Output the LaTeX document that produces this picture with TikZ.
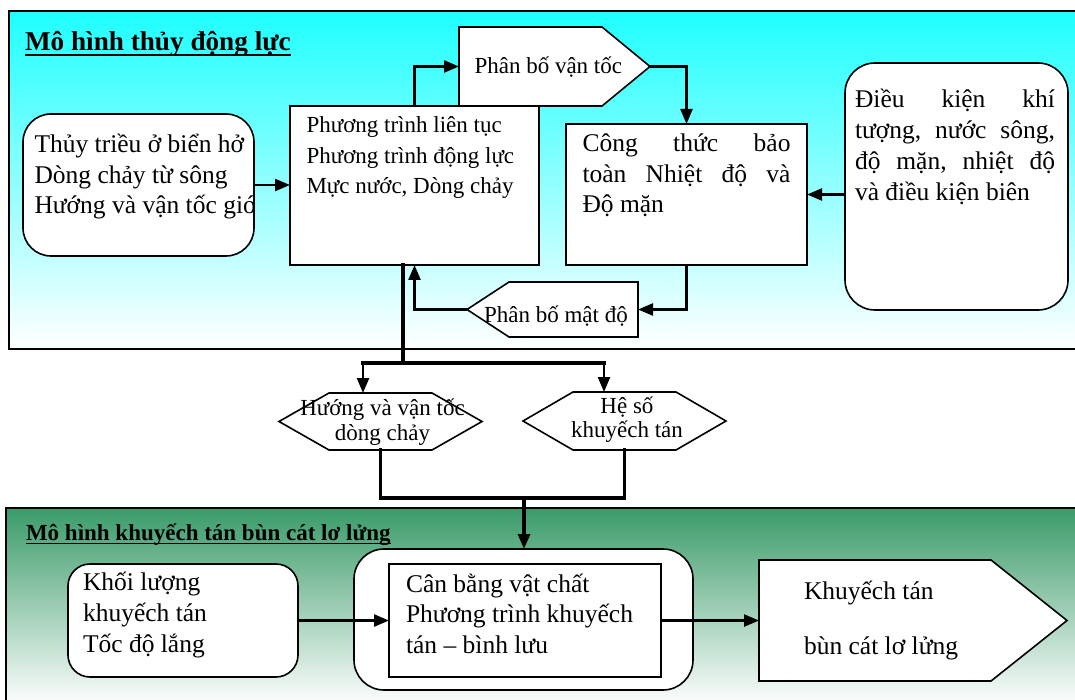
\documentclass[tikz,border=0pt]{standalone}
\usepackage{fontspec}
\setmainfont{Liberation Serif}
\usetikzlibrary{arrows.meta,calc}
\definecolor{topcyan}{RGB}{30,255,255}
\definecolor{botgreen}{RGB}{58,155,105}
\begin{document}
\begin{tikzpicture}[x=1pt,y=-1pt,
  box/.style={draw, line width=1.6pt, fill=white, inner sep=0pt, outer sep=0pt},
  core/.style={inner sep=0pt, outer sep=0pt},
  conn/.style={line width=2.4pt, -{Triangle[length=15pt,width=12pt]}},
  heavy/.style={line width=3.2pt, line cap=rect},
  heavyconn/.style={line width=3.2pt, -{Triangle[length=15pt,width=12pt]}},
  txt/.style={inner sep=0pt, outer sep=0pt, anchor=base west},
  ctxt/.style={inner sep=0pt, outer sep=0pt, anchor=base},
  big/.style={font=\fontsize{25.5}{30.5}\selectfont},
  small/.style={font=\fontsize{23}{30.5}\selectfont},
  title/.style={inner sep=0pt, outer sep=0pt, anchor=base west, font=\bfseries\fontsize{#1}{#1}\selectfont},
  uline/.style={line width=1.6pt}
]
\useasboundingbox (0,0) rectangle (1075,700);

% panels
\draw[line width=2pt, top color=topcyan, bottom color=white] (9,11) rectangle (1090,349);
\draw[line width=2pt, top color=botgreen, bottom color=white] (6,508) rectangle (1090,706);

% titles
\node[title=27.2] (t1) at (25,51) {Mô hình thủy động lực};
\draw[uline] ([yshift=-4pt]t1.base west) -- ([yshift=-4pt]t1.base east);
\node[title=23] (t2) at (26,540) {Mô hình khuyếch tán bùn cát lơ lửng};
\draw[uline] ([yshift=-3.5pt]t2.base west) -- ([yshift=-3.5pt]t2.base east);

% boxes (top)
\node[box, rounded corners=28pt, minimum width=231pt, minimum height=142pt] (A) at (138.5,185) {};
\node[box, minimum width=249pt, minimum height=159pt] (B) at (414.5,185.5) {};
\node[box, minimum width=241pt, minimum height=141pt] (C) at (686.5,194.5) {};
\node[box, rounded corners=30pt, minimum width=223pt, minimum height=247pt] (D) at (956.5,186.5) {};

\node[core, minimum width=143pt, minimum height=79pt] (PV) at (530.5,66.5) {};
\draw[box] (PV.north west) -- (PV.north east) -- ++(48,39.5) coordinate (PVtip) -- (PV.south east) -- (PV.south west) -- cycle;

\node[core, minimum width=129pt, minimum height=55pt] (MD) at (573.5,309.5) {};
\draw[box] (MD.north east) -- (MD.north west) -- ++(-42,27.5) coordinate (MDtip) -- (MD.south west) -- (MD.south east) -- cycle;

% hexagons
\node[core, minimum width=103pt, minimum height=57pt] (H1) at (380.5,421.5) {};
\draw[box] (H1.north west) -- (H1.north east) -- ++(50,28.5) -- (H1.south east) -- (H1.south west) -- ++(-50,-28.5) -- cycle;
\node[core, minimum width=103pt, minimum height=58pt] (H2) at (624.5,421) {};
\draw[box] (H2.north west) -- (H2.north east) -- ++(50,29) -- (H2.south east) -- (H2.south west) -- ++(-50,-29) -- cycle;

% boxes (bottom)
\node[box, rounded corners=22pt, minimum width=230pt, minimum height=113pt] (E) at (183,620.5) {};
\node[box, rounded corners=30pt, minimum width=339pt, minimum height=141pt] (F) at (523.5,619.5) {};
\node[box, minimum width=272pt, minimum height=113pt] (G) at (525,620.5) {};
\node[core, minimum width=232pt, minimum height=121pt] (K) at (875,620.5) {};
\draw[box] (K.north west) -- (K.north east) -- ++(76,60.5) -- (K.south east) -- (K.south west) -- cycle;

% connectors
\draw[conn] (A.east) -- (A.east -| B.west);
\draw[conn] (B.north) |- (PV.west);
\draw[conn] (PVtip) -| (C.north);
\draw[conn] (D.west |- C.east) -- (C.east);
\draw[conn] (C.south) |- (MD.east);
\draw[conn] (MDtip) -| (B.south);
\coordinate (split) at (403,363);
\coordinate (s1) at (363,363);
\coordinate (s2) at (604,363);
\draw[heavy] (B.south -| split) -- (split);
\draw[heavy] (s1) -- (s2);
\draw[conn] (s1) -- (s1 |- H1.north);
\draw[conn] (s2) -- (s2 |- H2.north);
\coordinate (j) at (524,498);
\draw[heavy] (H1.south) -- (H1.south |- j) -- (H2.south |- j) -- (H2.south);
\draw[heavyconn] (j) -- (j |- F.north);
\draw[conn] (E.east) -- (E.east -| G.west);
\draw[conn] (G.east) -- (K.west);

% texts
\node[txt, big] (At) at (34.5,153) {\parbox[t]{300pt}{Thủy triều ở biển hở\\Dòng chảy từ sông\\Hướng và vận tốc gió}};
\node[txt, small] (Bt) at (306.5,133) {\parbox[t]{300pt}{Phương trình liên tục\\Phương trình động lực\\Mực nước, Dòng chảy}};
\node[txt, small] (PVt) at (474.5,74) {Phân bố vận tốc};
\node[txt, big] (Ct) at (582.5,152) {\parbox[t]{208pt}{Công \hfill thức \hfill bảo\\toàn \hfill Nhiệt \hfill độ \hfill và\\Độ mặn}};
\node[txt, font=\fontsize{25.5}{30.7}\selectfont] (Dt) at (855,108) {\parbox[t]{200pt}{Điều \hfill kiện \hfill khí\\tượng, \hfill nước \hfill sông,\\độ \hfill mặn, \hfill nhiệt \hfill độ\\và điều kiện biên}};
\node[txt, small] (MDt) at (484,322) {Phân bố mật độ};
\node[ctxt, font=\fontsize{23}{25}\selectfont] (H1t) at (382.5,415) {\parbox[t]{200pt}{\centering Hướng và vận tốc\\dòng chảy}};
\node[ctxt, font=\fontsize{23}{24.5}\selectfont] (H2t) at (627,413) {\parbox[t]{200pt}{\centering Hệ số\\khuyếch tán}};
\node[txt, font=\fontsize{25.5}{31}\selectfont] (Et) at (83,590) {\parbox[t]{300pt}{Khối lượng\\khuyếch tán\\Tốc độ lắng}};
\node[txt, big] (Gt) at (406,592) {\parbox[t]{300pt}{Cân bằng vật chất\\Phương trình khuyếch\\tán – bình lưu}};
\node[txt, font=\fontsize{25.5}{55}\selectfont] (Kt) at (804,599) {\parbox[t]{250pt}{Khuyếch tán\\bùn cát lơ lửng}};
\end{tikzpicture}
\end{document}
